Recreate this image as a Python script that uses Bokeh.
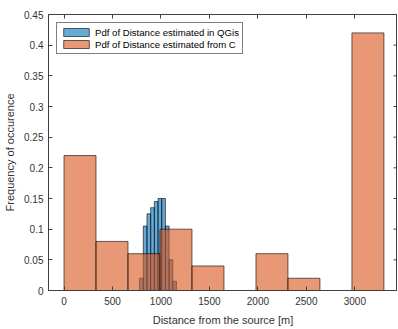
import math
from bokeh.plotting import figure
from bokeh.models import (ColumnDataSource, Range1d, LinearAxis, FixedTicker,
                          Legend, LegendItem)
from bokeh.embed import file_html
from bokeh.resources import INLINE

# ---- data ----
qgis_bin_left = [780, 818, 856, 894, 932, 970, 1008, 1046, 1084, 1122]
qgis_bin_width = 38
qgis_pdf = [0.02, 0.105, 0.125, 0.135, 0.145, 0.15, 0.15, 0.105, 0.05, 0.015]

c_bin_left = [0, 330, 660, 990, 1320, 1650, 1980, 2310, 2640, 2970]
c_bin_width = 330
c_pdf = [0.22, 0.08, 0.06, 0.10, 0.04, 0.0, 0.06, 0.02, 0.0, 0.42]

x_ticks = [0, 500, 1000, 1500, 2000, 2500, 3000]
y_ticks = [0, 0.05, 0.1, 0.15, 0.2, 0.25, 0.3, 0.35, 0.4, 0.45]
y_tick_labels = ["0", "0.05", "0.1", "0.15", "0.2", "0.25", "0.3", "0.35", "0.4", "0.45"]

label_legend_qgis = "Pdf of Distance estimated in QGis"
label_legend_c = "Pdf of Distance estimated from C"

X_MIN, X_MAX = -160, 3440
Y_MIN, Y_MAX = 0, 0.45

FONT = "Liberation Sans"
TXT = "#333333"
AX = "#404040"

src_q = ColumnDataSource(dict(left=qgis_bin_left,
                              right=[l + qgis_bin_width for l in qgis_bin_left],
                              top=qgis_pdf))
src_c = ColumnDataSource(dict(left=c_bin_left,
                              right=[l + c_bin_width for l in c_bin_left],
                              top=c_pdf))

p = figure(width=397, height=328, output_backend="svg", toolbar_location=None,
           x_range=Range1d(X_MIN, X_MAX), y_range=Range1d(Y_MIN, Y_MAX),
           min_border_left=48, min_border_right=0, min_border_top=14,
           min_border_bottom=37)
p.xgrid.visible = False
p.ygrid.visible = False
p.outline_line_color = AX
p.outline_line_width = 1
p.background_fill_color = "white"

r_q = p.quad(left="left", right="right", top="top", bottom=0, source=src_q,
             fill_color="#0072BD", fill_alpha=0.6, line_color="black", line_width=0.6)
r_c = p.quad(left="left", right="right", top="top", bottom=0, source=src_c,
             fill_color="#D95319", fill_alpha=0.6, line_color="black", line_width=0.6)

# inward tick marks on the right-hand box edge
p.ray(x=[X_MAX] * len(y_ticks), y=y_ticks, length=4, length_units="screen",
      angle=math.pi, line_color=AX, line_width=1)

def style_axis(ax):
    ax.axis_line_color = AX
    ax.major_tick_line_color = AX
    ax.major_tick_in = 4
    ax.major_tick_out = 0
    ax.minor_tick_line_color = None
    ax.major_label_text_font = FONT
    ax.major_label_text_color = TXT
    ax.major_label_text_font_size = "10px"
    ax.axis_label_text_font = FONT
    ax.axis_label_text_color = TXT
    ax.axis_label_text_font_size = "11px"
    ax.axis_label_text_font_style = "normal"

xa = p.xaxis[0]
xa.ticker = FixedTicker(ticks=x_ticks)
xa.axis_label = "Distance from the source [m]"
style_axis(xa)
xa.major_label_standoff = 6
xa.axis_label_standoff = 6

ya = p.yaxis[0]
ya.ticker = FixedTicker(ticks=y_ticks)
ya.major_label_overrides = {t: s for t, s in zip(y_ticks, y_tick_labels)}
ya.axis_label = "Frequency of occurence"
style_axis(ya)
ya.major_label_standoff = 5
ya.axis_label_standoff = 5

top_ax = LinearAxis(ticker=FixedTicker(ticks=x_ticks))
style_axis(top_ax)
top_ax.major_label_overrides = {t: "" for t in x_ticks}
top_ax.major_label_standoff = 0
p.add_layout(top_ax, "above")

legend = Legend(items=[LegendItem(label=label_legend_qgis, renderers=[r_q]),
                       LegendItem(label=label_legend_c, renderers=[r_c])],
                location="top_left", margin=8, padding=3, spacing=0,
                label_height=12, glyph_height=10, glyph_width=32,
                label_standoff=3, label_text_font=FONT,
                label_text_font_size="9.6px", label_text_color="black",
                border_line_color="black", border_line_width=1,
                background_fill_color="white", background_fill_alpha=1)
p.add_layout(legend)

open("out.html", "w").write(file_html(p, INLINE))
